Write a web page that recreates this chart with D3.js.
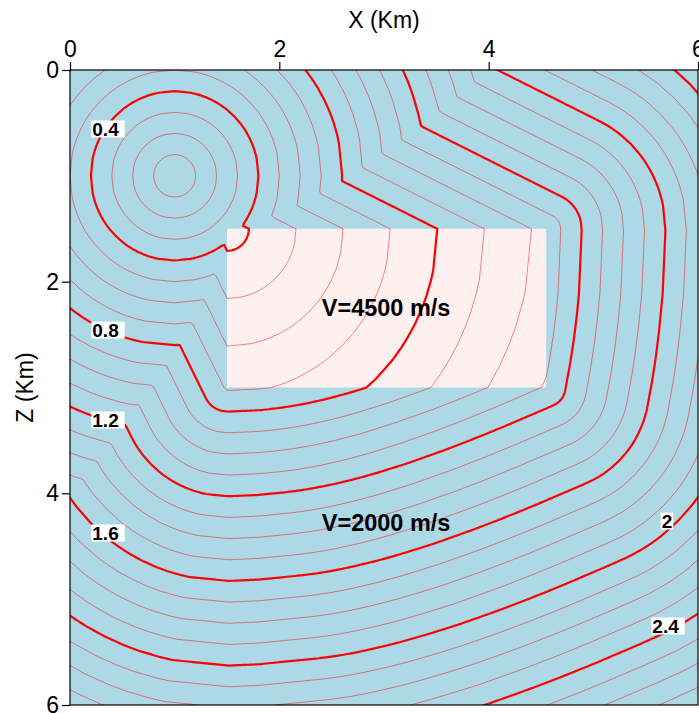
<!DOCTYPE html>
<html><head><meta charset="utf-8">
<script src="https://cdn.jsdelivr.net/npm/d3@7"></script>
<style>body{margin:0;background:#fff} svg{display:block}</style>
</head><body>
<svg id="chart" width="699" height="713"></svg>
<script>
// ---------------- data ----------------
const xTicks = [0, 2, 4, 6];
const zTicks = [0, 2, 4, 6];
const domainX = [0, 6];
const domainZ = [0, 6];
const source = [1.0, 1.0];            // km (x, z)
const blockX = [1.5, 4.55];           // km
const blockZ = [1.5, 3.0];            // km
const velocities = [2000, 4500];      // m/s : background, block
const levels = [0.1,0.2,0.3,0.4,0.5,0.6,0.7,0.8,0.9,1.0,1.1,1.2,1.3,1.4,1.5,1.6,1.7,1.8,1.9,2.0,
                2.1,2.2,2.3,2.4,2.5,2.6,2.7,2.8,2.9,3.0,3.1,3.2,3.3,3.4,3.5,3.6];
const majorLevels = [0.4, 0.8, 1.2, 1.6, 2.0, 2.4, 2.8, 3.2, 3.6];
const labelText = ["0.4", "0.8", "1.2", "1.6", "2", "2.4"];
const labelX = [0.363, 0.363, 0.363, 0.363, 5.704, 5.714];
const labelZ = [0.557, 2.457, 3.307, 4.375, 4.262, 5.254];
const regionText = ["V=4500 m/s", "V=2000 m/s"];
const regionX = [3.02, 3.02];
const regionZ = [2.24, 4.28];

// ---------------- layout ----------------
const svg = d3.select("#chart");
const x = d3.scaleLinear().domain(domainX).range([70, 698]);
const z = d3.scaleLinear().domain(domainZ).range([70, 705]);
const FONT = "'Liberation Sans', Arial, Helvetica, sans-serif";

// ---------------- travel-time field (shortest path on velocity grid) ----------------
const N = 241, h = (domainX[1] - domainX[0]) / (N - 1);
const v0 = velocities[0] / 1000, v1 = velocities[1] / 1000;
const EPS = 1e-7;
function slow(px, pz) {
  return (px >= blockX[0] - EPS && px <= blockX[1] + EPS && pz >= blockZ[0] - EPS && pz <= blockZ[1] + EPS) ? 1 / v1 : 1 / v0;
}
function gcd(a, b) { while (b) { const t = a % b; a = b; b = t; } return a; }
const R = 5, S = 12;
const offs = [];
for (let di = -R; di <= R; di++) for (let dj = -R; dj <= R; dj++) {
  if (!di && !dj) continue;
  if (gcd(Math.abs(di), Math.abs(dj)) !== 1) continue;
  offs.push([di, dj, Math.hypot(di, dj) * h]);
}
const T = new Float64Array(N * N).fill(Infinity);
const done = new Uint8Array(N * N);
const heapT = [], heapI = [];
function hpush(t, idx) {
  let k = heapT.length; heapT.push(t); heapI.push(idx);
  while (k > 0) { const p = (k - 1) >> 1; if (heapT[p] <= t) break;
    heapT[k] = heapT[p]; heapI[k] = heapI[p]; k = p; }
  heapT[k] = t; heapI[k] = idx;
}
function hpop() {
  const topI = heapI[0];
  const lt = heapT.pop(), li = heapI.pop();
  const n = heapT.length;
  if (n > 0) {
    let k = 0;
    while (true) { let c = 2 * k + 1; if (c >= n) break;
      if (c + 1 < n && heapT[c + 1] < heapT[c]) c++;
      if (heapT[c] >= lt) break;
      heapT[k] = heapT[c]; heapI[k] = heapI[c]; k = c; }
    heapT[k] = lt; heapI[k] = li;
  }
  return topI;
}
const si = Math.round(source[0] / h), sj = Math.round(source[1] / h);
T[sj * N + si] = 0; hpush(0, sj * N + si);
while (heapT.length) {
  const idx = hpop();
  if (done[idx]) continue;
  done[idx] = 1;
  const i = idx % N, j = (idx / N) | 0, t0 = T[idx];
  const px = i * h, pz = j * h;
  for (let o = 0; o < offs.length; o++) {
    const ni = i + offs[o][0], nj = j + offs[o][1];
    if (ni < 0 || nj < 0 || ni >= N || nj >= N) continue;
    const nidx = nj * N + ni;
    if (done[nidx]) continue;
    const dx = offs[o][0] * h, dz = offs[o][1] * h;
    let s = 0;
    for (let k = 0; k < S; k++) { const f = (k + 0.5) / S; s += slow(px + f * dx, pz + f * dz); }
    const tn = t0 + offs[o][2] * s / S;
    if (tn < T[nidx]) { T[nidx] = tn; hpush(tn, nidx); }
  }
}

// ---------------- drawing ----------------
svg.append("defs").append("clipPath").attr("id", "plotclip")
  .append("rect").attr("x", x(0)).attr("y", z(0))
  .attr("width", x(6) - x(0)).attr("height", z(6) - z(0));

svg.append("rect").attr("x", x(0)).attr("y", z(0))
  .attr("width", x(6) - x(0)).attr("height", z(6) - z(0)).attr("fill", "#add8e6");
svg.append("rect").attr("x", x(blockX[0])).attr("y", z(blockZ[0]))
  .attr("width", x(blockX[1]) - x(blockX[0])).attr("height", z(blockZ[1]) - z(blockZ[0]))
  .attr("fill", "#fff0f0");

const contours = d3.contours().size([N, N]).thresholds(levels)(Array.from(T));
const proj = d3.geoTransform({ point(px, py) { this.stream.point(x((px - 0.5) * h), z((py - 0.5) * h)); } });
const path = d3.geoPath(proj);
const isMajor = v => majorLevels.some(m => Math.abs(m - v) < 1e-6);
const cg = svg.append("g").attr("clip-path", "url(#plotclip)").attr("fill", "none");
cg.selectAll("path.minor").data(contours.filter(c => !isMajor(c.value))).join("path")
  .attr("class", "minor").attr("d", path)
  .attr("stroke", "#ff0000").attr("stroke-opacity", 0.55).attr("stroke-width", 0.9);
cg.selectAll("path.major").data(contours.filter(c => isMajor(c.value))).join("path")
  .attr("class", "major").attr("d", path)
  .attr("stroke", "#ff0000").attr("stroke-width", 2.2);

// contour labels
const lg = svg.append("g");
labelText.forEach((t, k) => {
  const g = lg.append("g");
  const txt = g.append("text").attr("y", z(labelZ[k])).attr("dy", "0.36em")
    .attr("font-family", FONT).attr("font-weight", "bold").attr("font-size", 19)
    .attr("fill", "#000").text(t);
  const w = txt.node().getComputedTextLength();
  const bw = w + (t.length > 1 ? 7 : 2);
  const bx = x(labelX[k]) - bw / 2;
  txt.attr("x", bx + 1);
  g.insert("rect", "text").attr("x", bx).attr("y", z(labelZ[k]) - 8.5)
    .attr("width", bw).attr("height", 17).attr("fill", "#fff");
});

// region annotations
regionText.forEach((t, k) => {
  svg.append("text").attr("x", x(regionX[k])).attr("y", z(regionZ[k]))
    .attr("text-anchor", "middle").attr("dy", "0.36em")
    .attr("font-family", FONT).attr("font-weight", "bold").attr("font-size", 23.5)
    .attr("fill", "#000").text(t);
});

// frame
svg.append("rect").attr("x", x(0)).attr("y", z(0))
  .attr("width", x(6) - x(0)).attr("height", z(6) - z(0))
  .attr("fill", "none").attr("stroke", "#000").attr("stroke-width", 1.2);

// axes
const axTop = svg.append("g").attr("transform", `translate(0,${z(0)})`)
  .call(d3.axisTop(x).tickValues(xTicks).tickFormat(d3.format("d")).tickSize(8).tickPadding(5));
const axLeft = svg.append("g").attr("transform", `translate(${x(0)},0)`)
  .call(d3.axisLeft(z).tickValues(zTicks).tickFormat(d3.format("d")).tickSize(8).tickPadding(3));
[axTop, axLeft].forEach(a => {
  a.select(".domain").remove();
  a.selectAll("line").attr("stroke", "#000").attr("stroke-width", 1.2);
  a.selectAll("text").attr("font-family", FONT).attr("font-size", 23).attr("fill", "#000");
});

svg.append("text").attr("x", 384).attr("y", 28).attr("text-anchor", "middle")
  .attr("font-family", FONT).attr("font-size", 23).text("X (Km)");
svg.append("text").attr("transform", `translate(33,${(z(0) + z(6)) / 2}) rotate(-90)`)
  .attr("text-anchor", "middle")
  .attr("font-family", FONT).attr("font-size", 23).text("Z (Km)");
</script>
</body></html>
